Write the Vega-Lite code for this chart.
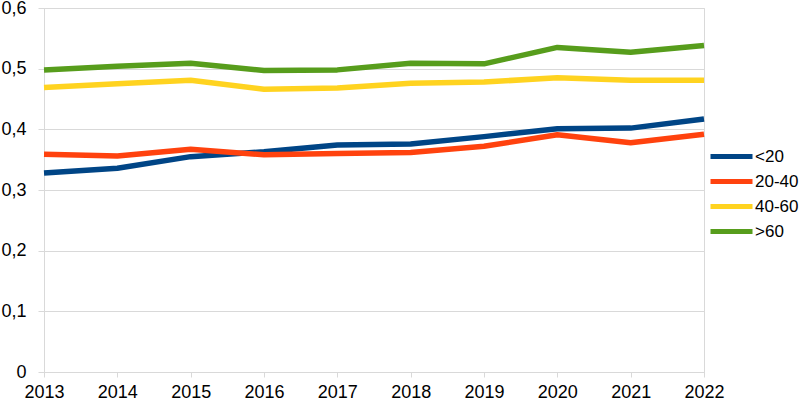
{
  "$schema": "https://vega.github.io/schema/vega-lite/v6.json",
  "width": 660,
  "height": 364,
  "autosize": {"type": "none"},
  "padding": {"left": 44, "top": 8, "right": 96, "bottom": 31},
  "background": "white",
  "view": {"stroke": "#d9d9d9", "strokeWidth": 1},
  "config": {"font": "Liberation Sans"},
  "data": {
    "values": [
      {"year": 2013, "group": "<20", "value": 0.328},
      {"year": 2014, "group": "<20", "value": 0.336},
      {"year": 2015, "group": "<20", "value": 0.355},
      {"year": 2016, "group": "<20", "value": 0.363},
      {"year": 2017, "group": "<20", "value": 0.374},
      {"year": 2018, "group": "<20", "value": 0.376},
      {"year": 2019, "group": "<20", "value": 0.388},
      {"year": 2020, "group": "<20", "value": 0.401},
      {"year": 2021, "group": "<20", "value": 0.402},
      {"year": 2022, "group": "<20", "value": 0.417},
      {"year": 2013, "group": "20-40", "value": 0.359},
      {"year": 2014, "group": "20-40", "value": 0.356},
      {"year": 2015, "group": "20-40", "value": 0.367},
      {"year": 2016, "group": "20-40", "value": 0.358},
      {"year": 2017, "group": "20-40", "value": 0.360},
      {"year": 2018, "group": "20-40", "value": 0.362},
      {"year": 2019, "group": "20-40", "value": 0.372},
      {"year": 2020, "group": "20-40", "value": 0.391},
      {"year": 2021, "group": "20-40", "value": 0.378},
      {"year": 2022, "group": "20-40", "value": 0.392},
      {"year": 2013, "group": "40-60", "value": 0.469},
      {"year": 2014, "group": "40-60", "value": 0.475},
      {"year": 2015, "group": "40-60", "value": 0.481},
      {"year": 2016, "group": "40-60", "value": 0.466},
      {"year": 2017, "group": "40-60", "value": 0.468},
      {"year": 2018, "group": "40-60", "value": 0.476},
      {"year": 2019, "group": "40-60", "value": 0.478},
      {"year": 2020, "group": "40-60", "value": 0.485},
      {"year": 2021, "group": "40-60", "value": 0.481},
      {"year": 2022, "group": "40-60", "value": 0.481},
      {"year": 2013, "group": ">60", "value": 0.498},
      {"year": 2014, "group": ">60", "value": 0.504},
      {"year": 2015, "group": ">60", "value": 0.509},
      {"year": 2016, "group": ">60", "value": 0.497},
      {"year": 2017, "group": ">60", "value": 0.498},
      {"year": 2018, "group": ">60", "value": 0.509},
      {"year": 2019, "group": ">60", "value": 0.508},
      {"year": 2020, "group": ">60", "value": 0.535},
      {"year": 2021, "group": ">60", "value": 0.527},
      {"year": 2022, "group": ">60", "value": 0.538}
    ]
  },
  "mark": {"type": "line", "strokeWidth": 5.5, "strokeCap": "butt", "strokeJoin": "round"},
  "encoding": {
    "x": {
      "field": "year",
      "type": "ordinal",
      "title": null,
      "scale": {"type": "point", "padding": 0},
      "axis": {
        "labelAngle": 0,
        "labelFontSize": 18,
        "labelColor": "#000000",
        "labelPadding": 6,
        "tickSize": 5,
        "tickColor": "#d9d9d9",
        "domainColor": "#d9d9d9",
        "grid": false
      }
    },
    "y": {
      "field": "value",
      "type": "quantitative",
      "title": null,
      "scale": {"domain": [0, 0.6]},
      "axis": {
        "values": [0, 0.1, 0.2, 0.3, 0.4, 0.5, 0.6],
        "labelExpr": "datum.value == 0 ? '0' : replace(format(datum.value, '.1f'), '.', ',')",
        "labelFontSize": 18,
        "labelColor": "#000000",
        "labelPadding": 12,
        "tickSize": 6,
        "tickColor": "#d9d9d9",
        "domainColor": "#d9d9d9",
        "gridColor": "#d9d9d9"
      }
    },
    "color": {
      "field": "group",
      "type": "nominal",
      "title": null,
      "scale": {
        "domain": ["<20", "20-40", "40-60", ">60"],
        "range": ["#004586", "#ff420e", "#ffd320", "#579d1c"]
      },
      "legend": {
        "orient": "none",
        "legendX": 678,
        "legendY": 139,
        "symbolType": "M-3,0H3",
        "symbolSize": 196,
        "symbolStrokeWidth": 5,
        "labelFontSize": 17,
        "labelColor": "#000000",
        "labelOffset": 14,
        "rowPadding": 4
      }
    }
  }
}
